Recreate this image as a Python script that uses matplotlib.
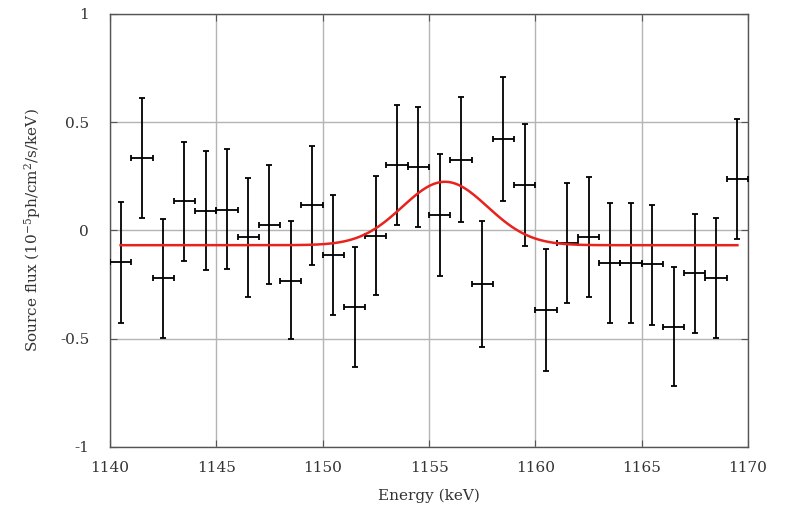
import matplotlib
matplotlib.use('Agg')
import matplotlib.pyplot as plt
import numpy as np
from matplotlib.ticker import FuncFormatter

plt.rcParams['font.family'] = 'DejaVu Serif'
plt.rcParams['mathtext.fontset'] = 'dejavuserif'

# binned spectrum, 1 keV bins
energy = [1140.5, 1141.5, 1142.5, 1143.5, 1144.5, 1145.5, 1146.5, 1147.5, 1148.5, 1149.5,
          1150.5, 1151.5, 1152.5, 1153.5, 1154.5, 1155.5, 1156.5, 1157.5, 1158.5, 1159.5,
          1160.5, 1161.5, 1162.5, 1163.5, 1164.5, 1165.5, 1166.5, 1167.5, 1168.5, 1169.5]
flux = [-0.147, 0.333, -0.221, 0.135, 0.090, 0.096, -0.028, 0.027, -0.232, 0.116,
        -0.113, -0.355, -0.024, 0.303, 0.293, 0.072, 0.327, -0.247, 0.423, 0.210,
        -0.367, -0.056, -0.028, -0.152, -0.152, -0.156, -0.444, -0.198, -0.221, 0.238]
flux_hi = [0.133, 0.613, 0.053, 0.410, 0.367, 0.375, 0.244, 0.301, 0.045, 0.390,
           0.162, -0.078, 0.252, 0.580, 0.572, 0.352, 0.615, 0.044, 0.707, 0.492,
           -0.085, 0.221, 0.249, 0.125, 0.125, 0.118, -0.167, 0.076, 0.056, 0.514]
flux_lo = [-0.429, 0.056, -0.495, -0.139, -0.182, -0.178, -0.306, -0.249, -0.503, -0.159,
           -0.390, -0.629, -0.298, 0.025, 0.018, -0.210, 0.038, -0.537, 0.136, -0.070,
           -0.647, -0.336, -0.309, -0.429, -0.429, -0.437, -0.718, -0.475, -0.495, -0.041]
bin_half = 0.5

# gaussian line on a flat continuum
baseline = -0.068
amplitude = 0.293
centroid = 1155.75
width = 2.0

flux = np.array(flux)
yerr = [flux - np.array(flux_lo), np.array(flux_hi) - flux]

fig = plt.figure(figsize=(7.85, 5.08), dpi=100)
ax = fig.add_axes([0.1401, 0.1201, 0.8128, 0.8524])

ax.errorbar(energy, flux, xerr=bin_half, yerr=yerr, fmt='none', ecolor='black',
            elinewidth=1.3, capsize=2, capthick=1.3, zorder=3)

e = np.linspace(energy[0], energy[-1], 400)
model = baseline + amplitude * np.exp(-0.5 * ((e - centroid) / width) ** 2)
ax.plot(e, model, color='#e8231e', lw=1.8, zorder=4)

ax.set_xlim(1140, 1170)
ax.set_ylim(-1, 1)
ax.set_xticks(np.arange(1140, 1171, 5))
ax.set_yticks([-1, -0.5, 0, 0.5, 1])
ax.yaxis.set_major_formatter(FuncFormatter(lambda v, p: '%g' % v))
ax.grid(True, color='#b4b4b4', lw=1.0)
ax.set_axisbelow(True)
ax.tick_params(direction='in', top=True, right=True, length=5, color='#555555',
               labelsize=11, labelcolor='#333333')
ax.tick_params(axis='y', pad=15)
ax.tick_params(axis='x', pad=10)
for s in ax.spines.values():
    s.set_color('#555555')
    s.set_linewidth(1.0)

ax.set_xlabel('Energy (keV)', fontsize=11, color='#333333', labelpad=10)
ax.set_ylabel('Source flux (10$^{-5}$ph/cm$^2$/s/keV)', fontsize=11, color='#333333', labelpad=12)

plt.savefig('out.png', dpi=100)
